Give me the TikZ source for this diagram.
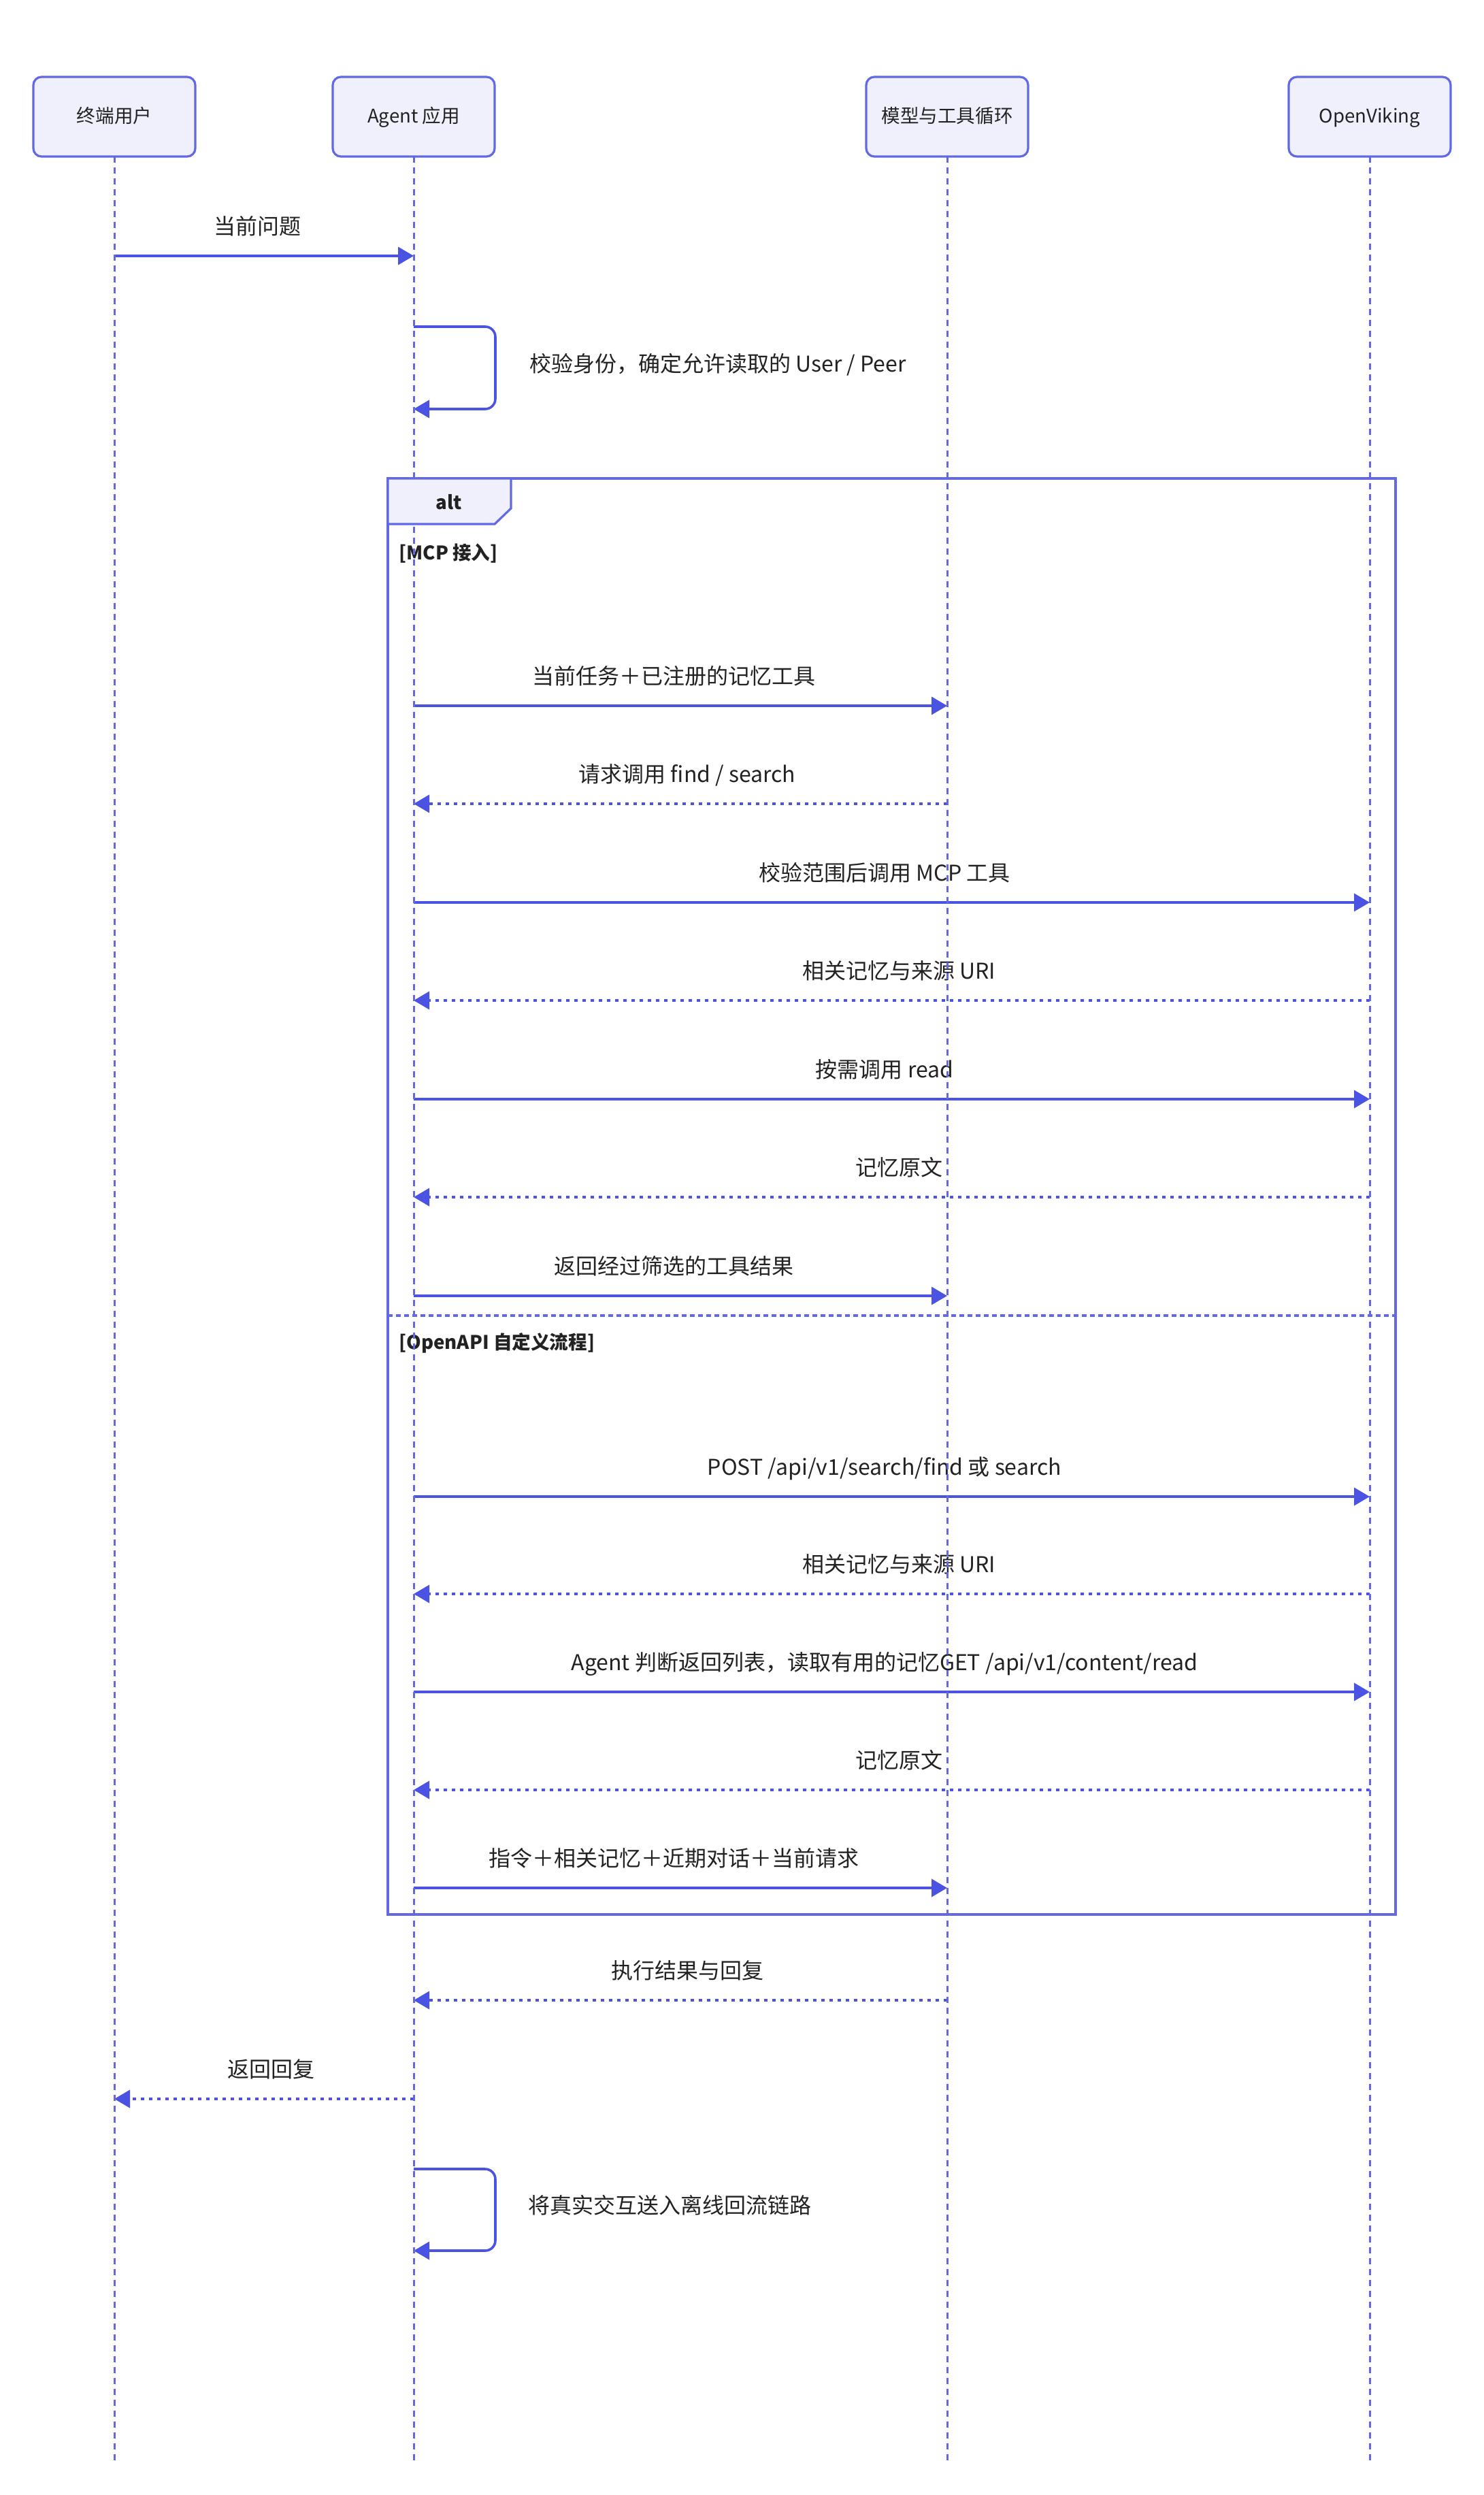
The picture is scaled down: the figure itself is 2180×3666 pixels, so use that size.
\documentclass[tikz,border=0pt]{standalone}
\usepackage{fontspec}
\setmainfont{Noto Sans CJK SC}
\usetikzlibrary{arrows.meta}
\definecolor{actorfill}{HTML}{EFF0FC}
\definecolor{actorline}{HTML}{6369E6}
\definecolor{msgline}{HTML}{4B53E2}
\definecolor{txt}{HTML}{222222}
\begin{document}
\begin{tikzpicture}[x=0.5pt,y=-0.5pt,
  actor/.style={draw=actorline, line width=1.6pt, fill=actorfill, rounded corners=6pt,
    minimum width=119pt, minimum height=58.5pt, inner sep=0pt,
    font=\fontsize{13.8pt}{16pt}\selectfont, text=txt, text height=9pt, text depth=0pt},
  life/.style={draw=actorline, line width=1.5pt, dash pattern=on 4.5pt off 3.5pt},
  msg/.style={draw=msgline, line width=1.8pt, -{Triangle[length=11.5pt,width=13pt]}},
  reply/.style={msg, dash pattern=on 2.5pt off 3.5pt},
  lbl/.style={font=\fontsize{16pt}{18pt}\selectfont, text=txt, inner sep=0pt,
    text height=12pt, text depth=0pt},
  sect/.style={font=\bfseries\fontsize{13.8pt}{16pt}\selectfont, text=txt, inner sep=0pt,
    text height=10.5pt, text depth=0pt},
  frameline/.style={draw=actorline, line width=1.6pt},
  divider/.style={draw=actorline, line width=1.6pt, dash pattern=on 3.5pt off 2.5pt}
]
\useasboundingbox (0,0) rectangle (2180,3666);
\fill[white] (0,0) rectangle (2180,3666);

% row coordinates
\coordinate (r0) at (0,376);
\coordinate (r1) at (0,1037);
\coordinate (r2) at (0,1181);
\coordinate (r3) at (0,1326);
\coordinate (r4) at (0,1470);
\coordinate (r5) at (0,1615);
\coordinate (r6) at (0,1759);
\coordinate (r7) at (0,1904);
\coordinate (r8) at (0,2199);
\coordinate (r9) at (0,2342);
\coordinate (r10) at (0,2486);
\coordinate (r11) at (0,2630);
\coordinate (r12) at (0,2774);
\coordinate (r13) at (0,2939);
\coordinate (r14) at (0,3084);
\coordinate (rend) at (0,3619);

% actors (positions)
\coordinate (U) at (168,171.5);
\coordinate (A) at (608,171.5);
\coordinate (M) at (1392,171.5);
\coordinate (O) at (2013,171.5);

% alt frame
\draw[frameline] (570,703) rectangle (2051,2813);
\draw[divider] (570,1933) -- (2051,1933);

% messages
\draw[msg] (U |- r0) -- (A |- r0);
\coordinate (s1a) at (608,480);
\coordinate (s1b) at (608,601);
\draw[msg, rounded corners=7.5pt] (s1a) -- ++(120,0) |- (s1b);
\draw[msg] (A |- r1) -- (M |- r1);
\draw[reply] (M |- r2) -- (A |- r2);
\draw[msg] (A |- r3) -- (O |- r3);
\draw[reply] (O |- r4) -- (A |- r4);
\draw[msg] (A |- r5) -- (O |- r5);
\draw[reply] (O |- r6) -- (A |- r6);
\draw[msg] (A |- r7) -- (M |- r7);
\draw[msg] (A |- r8) -- (O |- r8);
\draw[reply] (O |- r9) -- (A |- r9);
\draw[msg] (A |- r10) -- (O |- r10);
\draw[reply] (O |- r11) -- (A |- r11);
\draw[msg] (A |- r12) -- (M |- r12);
\draw[reply] (M |- r13) -- (A |- r13);
\draw[reply] (A |- r14) -- (U |- r14);
\coordinate (s2a) at (608,3187);
\coordinate (s2b) at (608,3307);
\draw[msg, rounded corners=7.5pt] (s2a) -- ++(120,0) |- (s2b);

% labels
\node[lbl] (t0) at (378,332) {当前问题};
\node[lbl, anchor=west] (ts1) at (778,534) {校验身份，确定允许读取的 User / Peer};
\node[lbl] (t1) at (990,993) {当前任务＋已注册的记忆工具};
\node[lbl] (t2) at (1010,1137) {请求调用 find / search};
\node[lbl] (t3) at (1300,1282) {校验范围后调用 MCP 工具};
\node[lbl] (t4) at (1321,1426) {相关记忆与来源 URI};
\node[lbl] (t5) at (1300,1571) {按需调用 read};
\node[lbl] (t6) at (1321,1715) {记忆原文};
\node[lbl] (t7) at (990,1860) {返回经过筛选的工具结果};
\node[lbl] (t8) at (1300,2155) {POST /api/v1/search/find 或 search};
\node[lbl] (t9) at (1321,2298) {相关记忆与来源 URI};
\node[lbl] (t10) at (1300,2442) {Agent 判断返回列表，读取有用的记忆GET /api/v1/content/read};
\node[lbl] (t11) at (1321,2586) {记忆原文};
\node[lbl] (t12) at (990,2730) {指令＋相关记忆＋近期对话＋当前请求};
\node[lbl] (t13) at (1010,2895) {执行结果与回复};
\node[lbl] (t14) at (398,3040) {返回回复};
\node[lbl, anchor=west] (ts2) at (776,3240) {将真实交互送入离线回流链路};
\node[sect, anchor=west] (sec1) at (586,812) {[MCP 接入]};
\node[sect, anchor=west] (sec2) at (586,1972) {[OpenAPI 自定义流程]};

% lifelines
\draw[life] (U |- 0,230) -- (U |- rend);
\draw[life] (A |- 0,230) -- (A |- rend);
\draw[life] (M |- 0,230) -- (M |- rend);
\draw[life] (O |- 0,230) -- (O |- rend);

% alt tab
\draw[frameline, fill=actorfill] (570,703) -- (751,703) -- (751,747) -- (727,770) -- (570,770) -- cycle;
\node[sect] (altlbl) at (660,738) {alt};

% actor boxes
\node[actor] (bU) at (U) {终端用户};
\node[actor] (bA) at (A) {Agent 应用};
\node[actor] (bM) at (M) {模型与工具循环};
\node[actor] (bO) at (O) {OpenViking};
\end{tikzpicture}
\end{document}
